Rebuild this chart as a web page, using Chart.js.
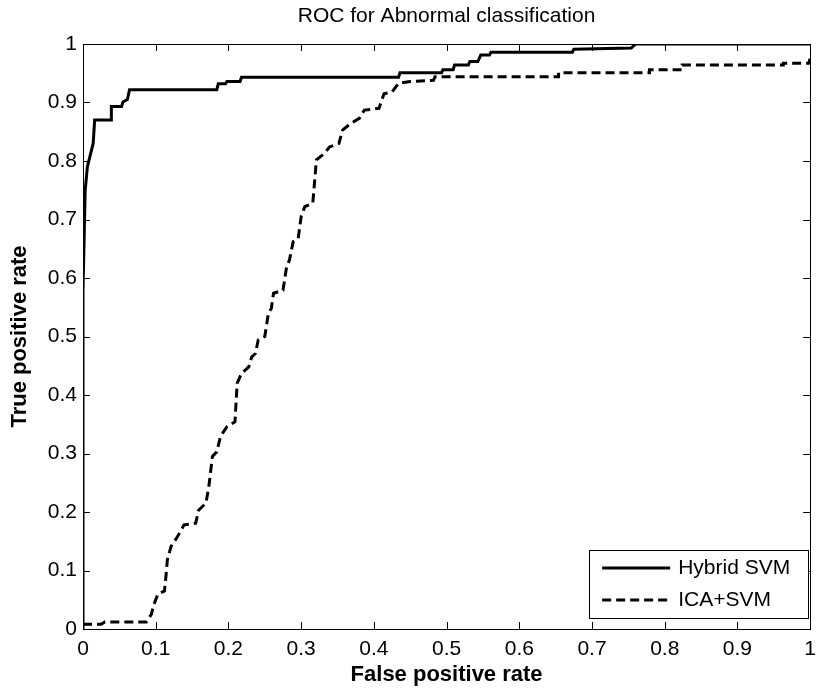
<!DOCTYPE html>
<html>
<head>
<meta charset="utf-8">
<script src="https://cdn.jsdelivr.net/npm/chart.js@4/dist/chart.umd.min.js"></script>
<style>
  html, body { margin: 0; padding: 0; background: #fff; }
  #wrap { width: 824px; height: 688px; position: relative; }
</style>
</head>
<body>
<div id="wrap"><canvas id="roc" width="824" height="688"></canvas></div>
<script>
// ROC curve points (false positive rate, true positive rate)
const hybridFpr = [0, 0, 0.003, 0.006, 0.010, 0.014, 0.016, 0.039, 0.039, 0.053, 0.055, 0.061, 0.064, 0.184, 0.186, 0.196, 0.198, 0.216, 0.218, 0.434, 0.436, 0.493, 0.495, 0.509, 0.511, 0.530, 0.532, 0.543, 0.547, 0.559, 0.561, 0.673, 0.675, 0.754, 0.760, 1];
const hybridTpr = [0, 0.58, 0.75, 0.79, 0.81, 0.83, 0.87, 0.87, 0.893, 0.893, 0.901, 0.905, 0.922, 0.922, 0.932, 0.932, 0.936, 0.936, 0.943, 0.943, 0.951, 0.951, 0.956, 0.956, 0.964, 0.964, 0.970, 0.970, 0.981, 0.981, 0.986, 0.986, 0.991, 0.993, 1, 1];

const icaFpr = [0, 0.025, 0.030, 0.087, 0.094, 0.097, 0.103, 0.112, 0.114, 0.116, 0.121, 0.130, 0.139, 0.155, 0.159, 0.169, 0.173, 0.178, 0.184, 0.189, 0.198, 0.209, 0.212, 0.218, 0.228, 0.232, 0.237, 0.241, 0.250, 0.255, 0.259, 0.262, 0.275, 0.280, 0.284, 0.289, 0.296, 0.300, 0.305, 0.316, 0.321, 0.332, 0.339, 0.352, 0.357, 0.368, 0.380, 0.387, 0.407, 0.414, 0.425, 0.434, 0.450, 0.482, 0.484, 0.654, 0.654, 0.779, 0.779, 0.824, 0.824, 0.963, 0.963, 0.998, 1];
const icaTpr = [0.008, 0.008, 0.012, 0.012, 0.025, 0.040, 0.060, 0.065, 0.089, 0.118, 0.141, 0.158, 0.178, 0.181, 0.203, 0.215, 0.243, 0.295, 0.303, 0.329, 0.346, 0.354, 0.420, 0.437, 0.448, 0.465, 0.471, 0.494, 0.500, 0.540, 0.548, 0.574, 0.579, 0.619, 0.631, 0.662, 0.668, 0.705, 0.722, 0.728, 0.802, 0.813, 0.824, 0.830, 0.853, 0.864, 0.873, 0.887, 0.890, 0.915, 0.918, 0.933, 0.936, 0.938, 0.944, 0.944, 0.951, 0.951, 0.956, 0.956, 0.964, 0.964, 0.967, 0.967, 0.975];

const seriesNames = ['Hybrid SVM', 'ICA+SVM'];
const chartTitle = 'ROC for Abnormal classification';

const xTickValues = [0, 0.1, 0.2, 0.3, 0.4, 0.5, 0.6, 0.7, 0.8, 0.9, 1];
const xTickLabels = ['0', '0.1', '0.2', '0.3', '0.4', '0.5', '0.6', '0.7', '0.8', '0.9', '1'];
const yTickValues = [0, 0.1, 0.2, 0.3, 0.4, 0.5, 0.6, 0.7, 0.8, 0.9, 1];
const yTickLabels = ['0', '0.1', '0.2', '0.3', '0.4', '0.5', '0.6', '0.7', '0.8', '0.9', '1'];

const FONT = "'Liberation Sans', Arial, Helvetica, sans-serif";

function toPoints(xs, ys) {
  return xs.map((x, i) => ({ x: x, y: ys[i] }));
}

// Title centred over the axes, axes box, inward tick marks on all four sides, legend box
const frameAndLegend = {
  id: 'frameAndLegend',
  afterDatasetsDraw(chart) {
    const ctx = chart.ctx;
    const a = chart.chartArea;
    const xs = chart.scales.x, ys = chart.scales.y;
    const tl = 7;
    ctx.save();

    ctx.fillStyle = '#000';
    ctx.font = '21px ' + FONT;
    ctx.textAlign = 'center';
    ctx.textBaseline = 'middle';
    ctx.fillText(chartTitle, (a.left + a.right) / 2, 16);

    ctx.strokeStyle = '#000';
    ctx.lineWidth = 1;
    ctx.beginPath();
    xTickValues.forEach(v => {
      const px = Math.round(xs.getPixelForValue(v)) + 0.5;
      ctx.moveTo(px, a.bottom); ctx.lineTo(px, a.bottom - tl);
      ctx.moveTo(px, a.top); ctx.lineTo(px, a.top + tl);
    });
    yTickValues.forEach(v => {
      const py = Math.round(ys.getPixelForValue(v)) + 0.5;
      ctx.moveTo(a.left, py); ctx.lineTo(a.left + tl, py);
      ctx.moveTo(a.right, py); ctx.lineTo(a.right - tl, py);
    });
    ctx.stroke();
    ctx.strokeRect(Math.round(a.left) + 0.5, Math.round(a.top) + 0.5,
                   Math.round(a.right - a.left), Math.round(a.bottom - a.top));

    // legend
    const box = { x: a.right - 221, y: a.bottom - 79, w: 219, h: 68 };
    ctx.fillStyle = '#fff';
    ctx.fillRect(box.x, box.y, box.w, box.h);
    ctx.strokeRect(Math.round(box.x) + 0.5, Math.round(box.y) + 0.5, box.w, box.h);
    ctx.font = '21px ' + FONT;
    ctx.textBaseline = 'middle';
    ctx.textAlign = 'left';
    chart.data.datasets.forEach((ds, i) => {
      const rowY = box.y + 18 + i * 32;
      ctx.beginPath();
      ctx.setLineDash(ds.borderDash || []);
      ctx.lineWidth = ds.borderWidth;
      ctx.strokeStyle = ds.borderColor;
      ctx.moveTo(box.x + 13, rowY);
      ctx.lineTo(box.x + 81, rowY);
      ctx.stroke();
      ctx.setLineDash([]);
      ctx.fillStyle = '#000';
      ctx.fillText(ds.label, box.x + 89, rowY);
    });
    ctx.restore();
  }
};

new Chart(document.getElementById('roc'), {
  type: 'line',
  data: {
    datasets: [
      {
        label: seriesNames[0],
        data: toPoints(hybridFpr, hybridTpr),
        borderColor: '#000',
        borderWidth: 3,
        pointRadius: 0,
        tension: 0,
        fill: false
      },
      {
        label: seriesNames[1],
        data: toPoints(icaFpr, icaTpr),
        borderColor: '#000',
        borderWidth: 3,
        borderDash: [9, 5],
        pointRadius: 0,
        tension: 0,
        fill: false
      }
    ]
  },
  options: {
    responsive: false,
    animation: false,
    events: [],
    layout: { padding: { left: 0, right: 7, top: 44, bottom: 0 } },
    plugins: {
      legend: { display: false },
      tooltip: { enabled: false },
      title: { display: false }
    },
    scales: {
      x: {
        type: 'linear',
        min: 0,
        max: 1,
        grid: { display: false, drawTicks: false },
        border: { display: false },
        afterBuildTicks: s => { s.ticks = xTickValues.map(v => ({ value: v })); },
        afterFit: s => { s.height = 59; },
        ticks: {
          color: '#000',
          font: { family: FONT, size: 21 },
          padding: 8,
          maxRotation: 0,
          autoSkip: false,
          callback: (v, i) => xTickLabels[i]
        },
        title: {
          display: true,
          text: 'False positive rate',
          color: '#000',
          font: { family: FONT, size: 22, weight: 'bold' },
          padding: { top: 0, bottom: 0 }
        }
      },
      y: {
        type: 'linear',
        min: 0,
        max: 1,
        grid: { display: false, drawTicks: false },
        border: { display: false },
        afterBuildTicks: s => { s.ticks = yTickValues.map(v => ({ value: v })); },
        afterFit: s => { s.width = 83; },
        ticks: {
          color: '#000',
          font: { family: FONT, size: 21 },
          padding: 6,
          autoSkip: false,
          callback: (v, i) => yTickLabels[i]
        },
        title: {
          display: true,
          text: 'True positive rate',
          color: '#000',
          font: { family: FONT, size: 22, weight: 'bold' },
          padding: { top: 7, bottom: 0 }
        }
      }
    }
  },
  plugins: [frameAndLegend]
});
</script>
</body>
</html>
